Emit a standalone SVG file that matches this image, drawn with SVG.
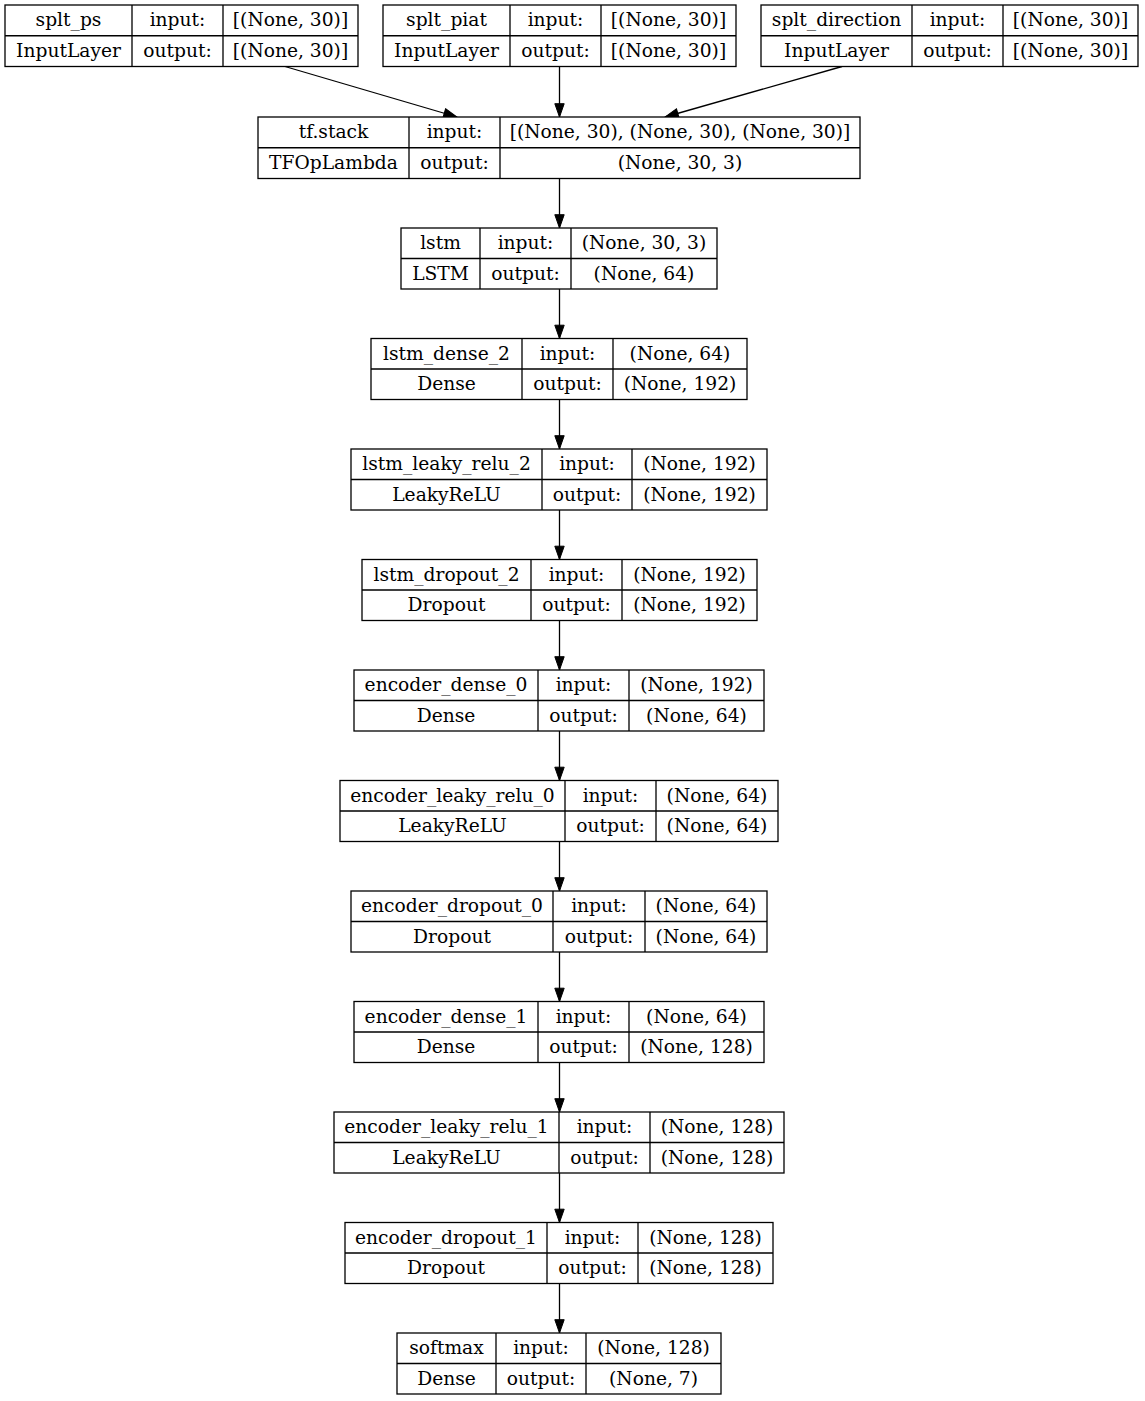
<svg xmlns="http://www.w3.org/2000/svg" width="1145" height="1401" viewBox="0 0 1145 1401">
<defs>
<marker id="arr" markerUnits="userSpaceOnUse" markerWidth="16" markerHeight="12" viewBox="0 -6 14 12" refX="13.3" refY="0" orient="auto">
<path d="M0,-4.7 L13.3,0 L0,4.7 z" fill="#000" stroke="#000" stroke-width="1"/>
</marker>
</defs>
<style>
rect{fill:#fff;stroke:#000;stroke-width:1.3}
.d{stroke:#000;stroke-width:1.3;fill:none}
text{font-family:"DejaVu Serif","Liberation Serif",serif;font-size:18.67px;fill:#000;text-anchor:middle}
.e{stroke:#000;stroke-width:1.3;fill:none;marker-end:url(#arr)}
</style>
<rect x="0" y="0" width="1145" height="1401" style="fill:#fff;stroke:none"/>

<g id="edges">
<path class="e" d="M285,66.5 L457,117"/>
<path class="e" d="M559.5,66.5 L559.5,117"/>
<path class="e" d="M842,66.5 L665,117"/>
<path class="e" d="M559.5,178.5 L559.5,228"/>
<path class="e" d="M559.5,289 L559.5,338.5"/>
<path class="e" d="M559.5,399.5 L559.5,449"/>
<path class="e" d="M559.5,510 L559.5,559.5"/>
<path class="e" d="M559.5,620.5 L559.5,670"/>
<path class="e" d="M559.5,731 L559.5,780.5"/>
<path class="e" d="M559.5,841.5 L559.5,891"/>
<path class="e" d="M559.5,952 L559.5,1001.5"/>
<path class="e" d="M559.5,1062.5 L559.5,1112"/>
<path class="e" d="M559.5,1173 L559.5,1222.5"/>
<path class="e" d="M559.5,1283.5 L559.5,1333"/>
</g>

<g id="splt_ps">
<rect x="5" y="5" width="353" height="61.5"/>
<path class="d" d="M5,35.75 H358 M132,5 V66.5 M223,5 V66.5"/>
<text x="68.5" y="26.3">splt_ps</text><text x="68.5" y="57">InputLayer</text>
<text x="177.5" y="26.3">input:</text><text x="177.5" y="57">output:</text>
<text x="290.5" y="26.3">[(None, 30)]</text><text x="290.5" y="57">[(None, 30)]</text>
</g>

<g id="splt_piat">
<rect x="383" y="5" width="353" height="61.5"/>
<path class="d" d="M383,35.75 H736 M510,5 V66.5 M601,5 V66.5"/>
<text x="446.5" y="26.3">splt_piat</text><text x="446.5" y="57">InputLayer</text>
<text x="555.5" y="26.3">input:</text><text x="555.5" y="57">output:</text>
<text x="668.5" y="26.3">[(None, 30)]</text><text x="668.5" y="57">[(None, 30)]</text>
</g>

<g id="splt_direction">
<rect x="761" y="5" width="377" height="61.5"/>
<path class="d" d="M761,35.75 H1138 M912,5 V66.5 M1003,5 V66.5"/>
<text x="836.5" y="26.3">splt_direction</text><text x="836.5" y="57">InputLayer</text>
<text x="957.5" y="26.3">input:</text><text x="957.5" y="57">output:</text>
<text x="1070.5" y="26.3">[(None, 30)]</text><text x="1070.5" y="57">[(None, 30)]</text>
</g>

<g id="tf_stack">
<rect x="258" y="117" width="602" height="61.5"/>
<path class="d" d="M258,147.75 H860 M409,117 V178.5 M500,117 V178.5"/>
<text x="333.5" y="138.3">tf.stack</text><text x="333.5" y="169">TFOpLambda</text>
<text x="454.5" y="138.3">input:</text><text x="454.5" y="169">output:</text>
<text x="680" y="138.3">[(None, 30), (None, 30), (None, 30)]</text><text x="680" y="169">(None, 30, 3)</text>
</g>

<g id="lstm">
<rect x="401" y="228" width="316" height="61"/>
<path class="d" d="M401,258.5 H717 M480,228 V289 M571,228 V289"/>
<text x="440.5" y="249">lstm</text><text x="440.5" y="279.5">LSTM</text>
<text x="525.5" y="249">input:</text><text x="525.5" y="279.5">output:</text>
<text x="644" y="249">(None, 30, 3)</text><text x="644" y="279.5">(None, 64)</text>
</g>

<g id="lstm_dense_2">
<rect x="371" y="338.5" width="376" height="61"/>
<path class="d" d="M371,369 H747 M522,338.5 V399.5 M613,338.5 V399.5"/>
<text x="446.5" y="359.5">lstm_dense_2</text><text x="446.5" y="390">Dense</text>
<text x="567.5" y="359.5">input:</text><text x="567.5" y="390">output:</text>
<text x="680" y="359.5">(None, 64)</text><text x="680" y="390">(None, 192)</text>
</g>

<g id="lstm_leaky_relu_2">
<rect x="351" y="449" width="416" height="61"/>
<path class="d" d="M351,479.5 H767 M542,449 V510 M632,449 V510"/>
<text x="446.5" y="470">lstm_leaky_relu_2</text><text x="446.5" y="500.5">LeakyReLU</text>
<text x="587" y="470">input:</text><text x="587" y="500.5">output:</text>
<text x="699.5" y="470">(None, 192)</text><text x="699.5" y="500.5">(None, 192)</text>
</g>

<g id="lstm_dropout_2">
<rect x="362" y="559.5" width="395" height="61"/>
<path class="d" d="M362,590 H757 M531,559.5 V620.5 M622,559.5 V620.5"/>
<text x="446.5" y="580.5">lstm_dropout_2</text><text x="446.5" y="611">Dropout</text>
<text x="576.5" y="580.5">input:</text><text x="576.5" y="611">output:</text>
<text x="689.5" y="580.5">(None, 192)</text><text x="689.5" y="611">(None, 192)</text>
</g>

<g id="encoder_dense_0">
<rect x="354" y="670" width="410" height="61"/>
<path class="d" d="M354,700.5 H764 M538,670 V731 M629,670 V731"/>
<text x="446" y="691">encoder_dense_0</text><text x="446" y="721.5">Dense</text>
<text x="583.5" y="691">input:</text><text x="583.5" y="721.5">output:</text>
<text x="696.5" y="691">(None, 192)</text><text x="696.5" y="721.5">(None, 64)</text>
</g>

<g id="encoder_leaky_relu_0">
<rect x="340" y="780.5" width="438" height="61"/>
<path class="d" d="M340,811 H778 M565,780.5 V841.5 M656,780.5 V841.5"/>
<text x="452.5" y="801.5">encoder_leaky_relu_0</text><text x="452.5" y="832">LeakyReLU</text>
<text x="610.5" y="801.5">input:</text><text x="610.5" y="832">output:</text>
<text x="717" y="801.5">(None, 64)</text><text x="717" y="832">(None, 64)</text>
</g>

<g id="encoder_dropout_0">
<rect x="351" y="891" width="416" height="61"/>
<path class="d" d="M351,921.5 H767 M553,891 V952 M645,891 V952"/>
<text x="452" y="912">encoder_dropout_0</text><text x="452" y="942.5">Dropout</text>
<text x="599" y="912">input:</text><text x="599" y="942.5">output:</text>
<text x="706" y="912">(None, 64)</text><text x="706" y="942.5">(None, 64)</text>
</g>

<g id="encoder_dense_1">
<rect x="354" y="1001.5" width="410" height="61"/>
<path class="d" d="M354,1032 H764 M538,1001.5 V1062.5 M629,1001.5 V1062.5"/>
<text x="446" y="1022.5">encoder_dense_1</text><text x="446" y="1053">Dense</text>
<text x="583.5" y="1022.5">input:</text><text x="583.5" y="1053">output:</text>
<text x="696.5" y="1022.5">(None, 64)</text><text x="696.5" y="1053">(None, 128)</text>
</g>

<g id="encoder_leaky_relu_1">
<rect x="334" y="1112" width="450" height="61"/>
<path class="d" d="M334,1142.5 H784 M559,1112 V1173 M650,1112 V1173"/>
<text x="446.5" y="1133">encoder_leaky_relu_1</text><text x="446.5" y="1163.5">LeakyReLU</text>
<text x="604.5" y="1133">input:</text><text x="604.5" y="1163.5">output:</text>
<text x="717" y="1133">(None, 128)</text><text x="717" y="1163.5">(None, 128)</text>
</g>

<g id="encoder_dropout_1">
<rect x="345" y="1222.5" width="428" height="61"/>
<path class="d" d="M345,1253 H773 M547,1222.5 V1283.5 M638,1222.5 V1283.5"/>
<text x="446" y="1243.5">encoder_dropout_1</text><text x="446" y="1274">Dropout</text>
<text x="592.5" y="1243.5">input:</text><text x="592.5" y="1274">output:</text>
<text x="705.5" y="1243.5">(None, 128)</text><text x="705.5" y="1274">(None, 128)</text>
</g>

<g id="softmax">
<rect x="397" y="1333" width="324" height="61"/>
<path class="d" d="M397,1363.5 H721 M496,1333 V1394 M586,1333 V1394"/>
<text x="446.5" y="1354">softmax</text><text x="446.5" y="1384.5">Dense</text>
<text x="541" y="1354">input:</text><text x="541" y="1384.5">output:</text>
<text x="653.5" y="1354">(None, 128)</text><text x="653.5" y="1384.5">(None, 7)</text>
</g>
</svg>
